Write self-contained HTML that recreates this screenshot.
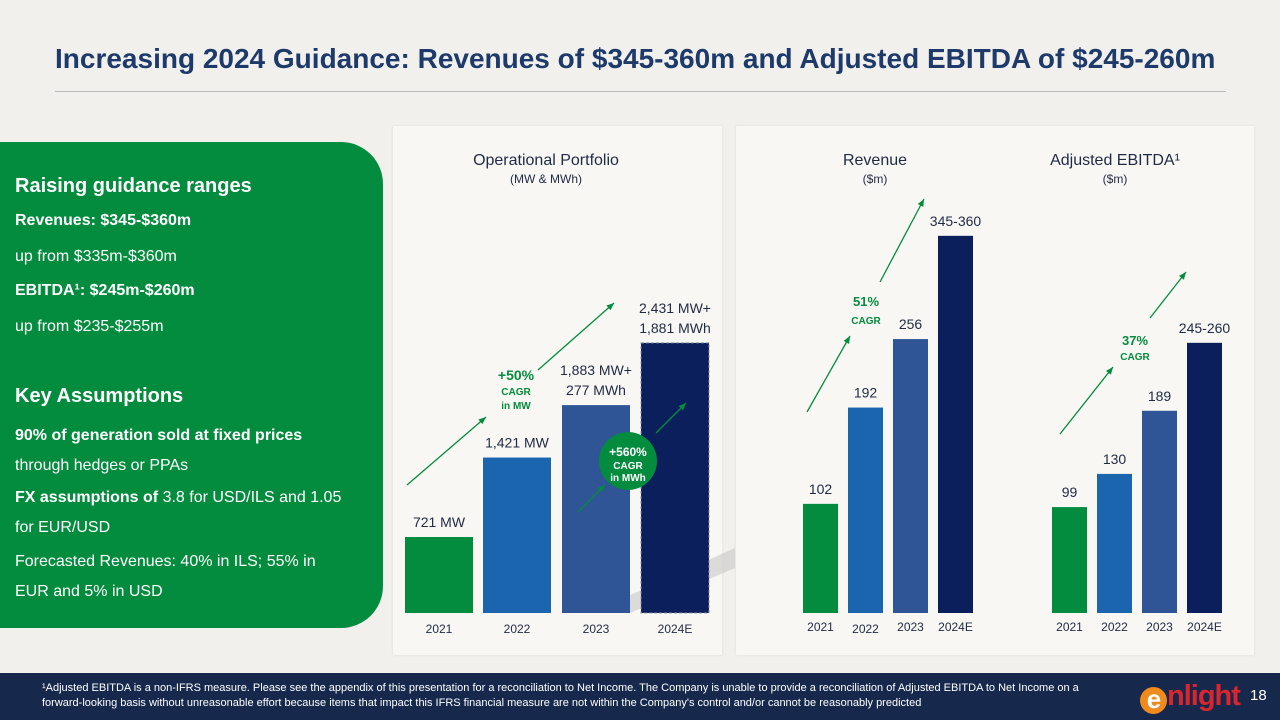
<!DOCTYPE html>
<html><head><meta charset="utf-8"><style>
body{margin:0;width:1280px;height:720px;overflow:hidden;background:#f1f0ec;font-family:"Liberation Sans",sans-serif;position:relative}
.abs{position:absolute}
.t{position:absolute;white-space:nowrap}
#title{left:55px;top:43px;font-size:28px;font-weight:bold;color:#1d3a6b}
#rule{left:55px;top:91px;width:1171px;height:1px;background:#b9b9b9}
#green{left:0;top:142px;width:383px;height:486px;background:#048c3e;border-radius:0 42px 42px 0}
.g{color:#fff;font-size:16px;left:15px}
.gb{font-weight:bold}
.panel{background:#f8f7f3;box-shadow:0 0 3px rgba(0,0,0,.08)}
#footer{left:0;top:673px;width:1280px;height:47px;background:#17284d}
#fn{left:42px;top:681px;color:#fff;font-size:11px;line-height:15px;white-space:normal;width:1070px}
</style></head><body>
<div class="t" id="title">Increasing 2024 Guidance: Revenues of $345-360m and Adjusted EBITDA of $245-260m</div>
<div class="abs" id="rule"></div>
<div class="abs" id="green">
<div class="t g gb" style="top:33px;font-size:20px">Raising guidance ranges</div>
<div class="t g gb" style="top:70px">Revenues: $345-$360m</div>
<div class="t g" style="top:106px">up from $335m-$360m</div>
<div class="t g gb" style="top:140px">EBITDA¹: $245m-$260m</div>
<div class="t g" style="top:176px">up from $235-$255m</div>
<div class="t g gb" style="top:243px;font-size:20px">Key Assumptions</div>
<div class="t g" style="top:285px"><b>90% of generation sold at fixed prices</b></div>
<div class="t g" style="top:315px">through hedges or PPAs</div>
<div class="t g" style="top:347px"><b>FX assumptions of</b> 3.8 for USD/ILS and 1.05</div>
<div class="t g" style="top:377px">for EUR/USD</div>
<div class="t g" style="top:411px">Forecasted Revenues: 40% in ILS; 55% in</div>
<div class="t g" style="top:441px">EUR and 5% in USD</div>
</div>
<div class="abs panel" style="left:393px;top:126px;width:329px;height:529px"></div>
<div class="abs panel" style="left:736px;top:126px;width:518px;height:529px"></div>
<svg class="abs" style="left:0;top:0" width="1280" height="720" id="chart"></svg>
<div class="abs" id="footer"></div>
<div class="t" id="fn">¹Adjusted EBITDA is a non-IFRS measure. Please see the appendix of this presentation for a reconciliation to Net Income. The Company is unable to provide a reconciliation of Adjusted EBITDA to Net Income on a forward-looking basis without unreasonable effort because items that impact this IFRS financial measure are not within the Company's control and/or cannot be reasonably predicted</div>
<div class="t" style="left:1140px;top:680px;font-size:29px;font-weight:bold;color:#d9262e;letter-spacing:-1px"><span style="display:inline-block;width:27px;height:27px;border-radius:50%;background:#f08a1c;color:#fff;text-align:center;line-height:25px;font-size:26px;vertical-align:-3px">e</span>nlight</div>
<div class="t" style="left:1250px;top:687px;font-size:15px;color:#fff">18</div>
<script>
const NS="http://www.w3.org/2000/svg";
const svg=document.getElementById('chart');
const years=["2021","2022","2023","2024E"];
const portfolioMW=[721,1421,1883,2431];
const portfolioLabels=[["721 MW"],["1,421 MW"],["1,883 MW+","277 MWh"],["2,431 MW+","1,881 MWh"]];
const revenue=[102,192,256,352.5];
const revenueLabels=["102","192","256","345-360"];
const ebitda=[99,130,189,252.5];
const ebitdaLabels=["99","130","189","245-260"];
const colors=["#048c3e","#1b64ae","#2f5596","#0b1f5c"];
const base=613;
function el(t,a,txt){const e=document.createElementNS(NS,t);for(const k in a)e.setAttribute(k,a[k]);if(txt!=null)e.textContent=txt;svg.appendChild(e);return e;}
function txt(x,y,s,size,fill,bold,name){const e=el('text',{x:x,y:y,'font-size':size,fill:fill,'text-anchor':'middle','font-family':'Liberation Sans, sans-serif','font-weight':bold?'bold':'normal'},s);

return e;}
function pScale(v){return base-76-(v-721)*0.1135;}
function fScale(v){return base-v*1.07;}
el('polygon',{points:'590,613 735,548 735,568 630,613',fill:'#c9c8c4',opacity:'0.6'});
const px=[405,483,562,641],pw=68;
years.forEach((y,i)=>{const top=pScale(portfolioMW[i]);
const r=el('rect',{x:px[i],y:top,width:pw,height:base-top,fill:colors[i]});
if(i==3){r.setAttribute('stroke','#8a93a8');r.setAttribute('stroke-dasharray','3,2');}


portfolioLabels[i].forEach((l,j,a)=>txt(px[i]+pw/2,top-10-(a.length-1-j)*20,l,14,'#1f2a44',false,'portfolio-value-label'));
txt(px[i]+pw/2,633,y,12,'#1f2a44',false,'portfolio-year-label');});
txt(546,165,'Operational Portfolio',16,'#1f2a44',false,'portfolio-title');
txt(546,183,'(MW & MWh)',12,'#1f2a44',false,'portfolio-subtitle');
function arrow(x1,y1,x2,y2){el('line',{x1:x1,y1:y1,x2:x2,y2:y2,stroke:'#048c3e','stroke-width':1.3});
const a=Math.atan2(y2-y1,x2-x1),s=8;el('polygon',{points:`${x2},${y2} ${x2-s*Math.cos(a-0.4)},${y2-s*Math.sin(a-0.4)} ${x2-s*Math.cos(a+0.4)},${y2-s*Math.sin(a+0.4)}`,fill:'#048c3e'});}
arrow(407,485,486,417);arrow(538,370,614,303);
txt(516,380,'+50%',14,'#048c3e',true,'mw-cagr');txt(516,395,'CAGR',10,'#048c3e',true,'mw-cagr-text');txt(516,409,'in MW',10,'#048c3e',true,'mw-cagr-text');
arrow(578,512,605,485);arrow(656,433,686,403);
el('circle',{cx:628,cy:461,r:29,fill:'#048c3e'});
txt(628,456,'+560%',12,'#fff',true,'mwh-cagr');txt(628,469,'CAGR',10,'#fff',true,'mwh-cagr-text');txt(628,481,'in MWh',10,'#fff',true,'mwh-cagr-text');
const rx=[803,848,893,938],ex=[1052,1097,1142,1187],bw=35;
years.forEach((y,i)=>{let top=fScale(revenue[i]);
let r=el('rect',{x:rx[i],y:top,width:bw,height:base-top,fill:colors[i]});


txt(rx[i]+bw/2,top-10,revenueLabels[i],14,'#1f2a44',false,'revenue-value-label');
txt(rx[i]+bw/2,i==1?633:631,y,12,'#1f2a44',false,'revenue-year-label');
top=fScale(ebitda[i]);
r=el('rect',{x:ex[i],y:top,width:bw,height:base-top,fill:colors[i]});


txt(ex[i]+bw/2,top-10,ebitdaLabels[i],14,'#1f2a44',false,'ebitda-value-label');
txt(ex[i]+bw/2,631,y,12,'#1f2a44',false,'ebitda-year-label');});
txt(875,165,'Revenue',16,'#1f2a44',false,'revenue-title');txt(875,183,'($m)',12,'#1f2a44',false,'revenue-subtitle');
txt(1115,165,'Adjusted EBITDA¹',16,'#1f2a44',false,'ebitda-title');txt(1115,183,'($m)',12,'#1f2a44',false,'ebitda-subtitle');
arrow(807,412,850,336);arrow(880,282,924,199);
txt(866,306,'51%',13,'#048c3e',true,'revenue-cagr');txt(866,324,'CAGR',10,'#048c3e',true,'revenue-cagr-text');
arrow(1060,434,1113,367);arrow(1150,318,1186,272);
txt(1135,345,'37%',13,'#048c3e',true,'ebitda-cagr');txt(1135,360,'CAGR',10,'#048c3e',true,'ebitda-cagr-text');
</script>
</body></html>
